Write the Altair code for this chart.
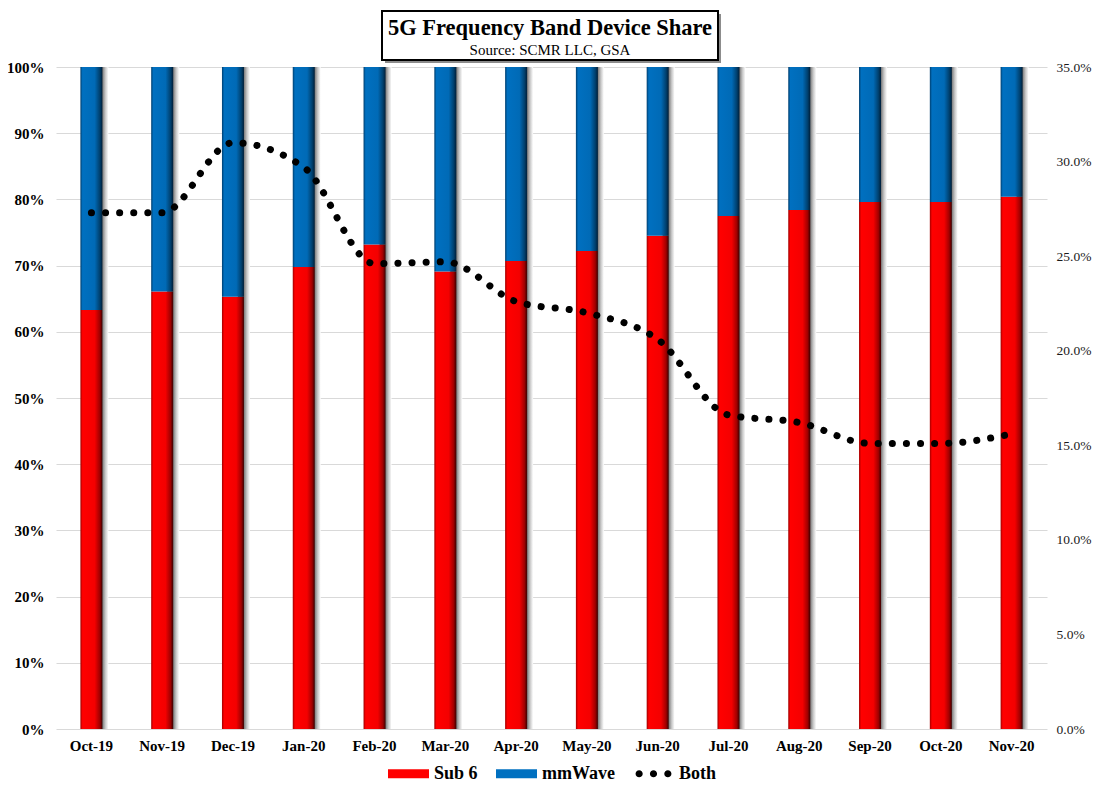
import altair as alt
import pandas as pd

FONT = "Liberation Serif"

months = ["Oct-19", "Nov-19", "Dec-19", "Jan-20", "Feb-20", "Mar-20", "Apr-20",
          "May-20", "Jun-20", "Jul-20", "Aug-20", "Sep-20", "Oct-20", "Nov-20"]
sub6 = [63.3, 66.1, 65.3, 69.8, 73.2, 69.1, 70.7, 72.2, 74.5, 77.5, 78.4, 79.6, 79.6, 80.4]
both = [27.3, 27.3, 31.0, 29.7, 24.6, 24.7, 22.6, 22.0, 20.6, 16.6, 16.2, 15.1, 15.1, 15.6]
series = ["Sub 6", "mmWave", "Both"]
series_colors = ["#FF0000", "#0070C0", "#000000"]
left_ticks = [0, 0.1, 0.2, 0.3, 0.4, 0.5, 0.6, 0.7, 0.8, 0.9, 1.0]
right_ticks = [0, 0.05, 0.10, 0.15, 0.20, 0.25, 0.30, 0.35]
title_text = "5G Frequency Band Device Share"
subtitle_text = "Source: SCMR LLC, GSA"

df = pd.DataFrame({
    "month": months,
    "sub6": [v / 100 for v in sub6],
    "top": [1.0] * len(months),
    "both": [v / 100 for v in both],
})

x_enc = alt.X("month:N", sort=months,
              scale=alt.Scale(paddingInner=0, paddingOuter=0),
              axis=alt.Axis(title=None, labelAngle=0, labelFont=FONT, labelFontSize=15,
                            labelFontWeight="bold", labelColor="black", ticks=False,
                            domain=False, labelPadding=9))


def grad(stops):
    return alt.Gradient(gradient="linear", x1=0, x2=1, y1=0, y2=0,
                        stops=[alt.GradientStop(color=c, offset=o) for o, c in stops])


red_grad = grad([(0, "#A00000"), (0.1, "#FF0000"), (0.65, "#F40000"), (0.88, "#A00000"), (1, "#3A0000")])
blue_grad = grad([(0, "#003E6E"), (0.1, "#0070C0"), (0.65, "#006AB6"), (0.88, "#00406E"), (1, "#001E38")])
shadow_grad = grad([(0, "#555555"), (0.5, "#7A7A7A"), (0.75, "#C8C8C8"), (1, "#FFFFFF")])

left_axis = alt.Axis(title=None, format="%", values=left_ticks, labelFont=FONT, labelFontSize=15,
                     labelFontWeight="bold", labelColor="black", ticks=False, domain=False,
                     labelPadding=12, grid=True, gridColor="#D9D9D9", gridWidth=1)

shadow = alt.Chart(df).mark_bar(width=12, xOffset=11, color=shadow_grad).encode(
    x=x_enc,
    y=alt.Y("top:Q", scale=alt.Scale(domain=[0, 1]), axis=left_axis),
)
bars_sub6 = alt.Chart(df).mark_bar(width=22, color=red_grad).encode(
    x=x_enc,
    y=alt.Y("sub6:Q", title=None),
)
bars_mm = alt.Chart(df).mark_bar(width=22, color=blue_grad).encode(
    x=x_enc,
    y=alt.Y("top:Q", title=None),
    y2="sub6:Q",
)
bars = alt.layer(shadow, bars_sub6, bars_mm)

line = alt.Chart(df).mark_line(color="black", strokeWidth=7, strokeDash=[0.1, 14],
                               strokeCap="round", interpolate="monotone").encode(
    x=x_enc,
    y=alt.Y("both:Q", scale=alt.Scale(domain=[0, 0.35]),
            axis=alt.Axis(title=None, orient="right", format=".1%", values=right_ticks,
                          labelFont=FONT, labelFontSize=13.5, labelColor="#1A1A1A",
                          ticks=False, domain=False, grid=False, labelPadding=9)),
)

rect_path = "M-1,-0.22H1V0.22H-1Z"
dots_path = ("M-0.875,0a0.175,0.175 0 1,0 0.35,0a0.175,0.175 0 1,0 -0.35,0Z"
             "M-0.175,0a0.175,0.175 0 1,0 0.35,0a0.175,0.175 0 1,0 -0.35,0Z"
             "M0.525,0a0.175,0.175 0 1,0 0.35,0a0.175,0.175 0 1,0 -0.35,0Z")
legend = alt.Legend(title=None, orient="none", legendX=332, legendY=686, direction="horizontal",
                    symbolSize=1681, symbolOpacity=1, symbolStrokeWidth=0,
                    labelFont=FONT, labelFontSize=18, labelFontWeight="bold", labelColor="black",
                    columnPadding=18, labelOffset=5)
legend_layer = alt.Chart(pd.DataFrame({"series": series})).mark_point(
    filled=True, opacity=0).encode(
    color=alt.Color("series:N", scale=alt.Scale(domain=series, range=series_colors), legend=legend),
    shape=alt.Shape("series:N", scale=alt.Scale(domain=series, range=[rect_path, rect_path, dots_path]),
                    legend=legend),
)

one = pd.DataFrame({"a": [0]})
box_shadow_r = alt.Chart(one).mark_rect(color="#8C8C8C").encode(
    x=alt.value(662), x2=alt.value(665), y=alt.value(-53), y2=alt.value(-4))
box_shadow_b = alt.Chart(one).mark_rect(color="#8C8C8C").encode(
    x=alt.value(329), x2=alt.value(665), y=alt.value(-7), y2=alt.value(-4))
box = alt.Chart(one).mark_rect(fill="white", stroke="black", strokeWidth=2).encode(
    x=alt.value(326), x2=alt.value(662), y=alt.value(-56), y2=alt.value(-7))
title_mark = alt.Chart(one).mark_text(text=title_text, font=FONT, fontSize=22.5, fontWeight="bold",
                                      color="black", align="center", baseline="alphabetic").encode(
    x=alt.value(494), y=alt.value(-32))
subtitle_mark = alt.Chart(one).mark_text(text=subtitle_text, font=FONT, fontSize=15,
                                         color="black", align="center", baseline="alphabetic").encode(
    x=alt.value(494), y=alt.value(-12))

chart = alt.layer(bars, line, legend_layer, box_shadow_r, box_shadow_b, box,
                  title_mark, subtitle_mark).resolve_scale(
    y="independent"
).properties(
    width=991, height=662,
    autosize=alt.AutoSizeParams(type="none"),
    padding={"left": 48, "top": 59, "right": 45, "bottom": 60},
).configure_view(stroke=None)

chart.save("out.html", embed_options={"renderer": "svg", "actions": False})
